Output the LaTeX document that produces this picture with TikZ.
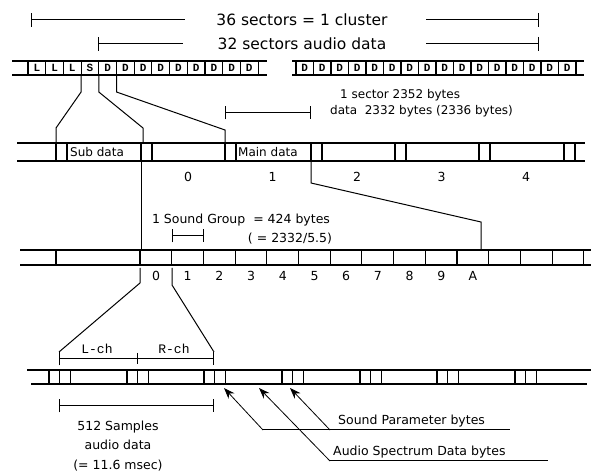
\documentclass[tikz,border=0pt]{standalone}
\usepackage{fontspec}
\setmainfont{DejaVu Sans}
\newfontfamily\cellfont{Liberation Mono}
\usetikzlibrary{arrows.meta}

\tikzset{
  rowline/.style={line width=1.1pt},
  link/.style={line width=1pt},
  span/.style={line width=1pt, {Bar[width=13pt]}-{Bar[width=13pt]}},
  lspan/.style={line width=1pt, {Bar[width=14pt]}-},
  rspan/.style={line width=1pt, -{Bar[width=14pt]}},
  pointer/.style={line width=0.8pt, -{Stealth[length=11pt,width=8pt]}},
  lbl/.style={font=\fontsize{12.5}{14}\selectfont, inner sep=0pt},
  smalllbl/.style={font=\fontsize{12}{13}\selectfont, inner sep=0pt},
  biglbl/.style={font=\fontsize{15.5}{17}\selectfont, inner sep=0pt},
  celltxt/.style={font=\cellfont\bfseries\fontsize{11}{11}\selectfont, inner sep=0pt},
  chtxt/.style={font=\cellfont\fontsize{13}{13}\selectfont, inner sep=0pt},
}

\begin{document}
\begin{tikzpicture}[x=1pt, y=-1pt]
  \useasboundingbox (0,0) rectangle (598,473);

  % Cluster spans
  \node[biglbl] (cluster) at (302,20) {36 sectors = 1 cluster};
  \node[biglbl] (audio) at (302,44) {32 sectors audio data};
  \draw[lspan] (31,20) -- (185,20);
  \draw[rspan] (426,20) -- (539,20);
  \draw[lspan] (98,44) -- (183,44);
  \draw[rspan] (426,44) -- (539,44);

  % Sector row
  \draw[rowline] (12,61) -- (267,61) (12,75) -- (267,75);
  \foreach \s [count=\i from 0] in {L,L,L,S,D,D,D,D,D,D,D,D,D} {
    \draw[rowline] ({28+\i*17.7},61) -- ++(0,14);
    \node[celltxt] at ({36.85+\i*17.7},68) {\s};
  }
  \draw[rowline] (258.1,61) -- ++(0,14);
  \draw[rowline] (292,61) -- (584,61) (292,75) -- (584,75);
  \foreach \i in {0,...,15} {
    \draw[rowline] ({296+\i*17.5},61) -- ++(0,14);
    \node[celltxt] at ({304.75+\i*17.5},68) {D};
  }
  \draw[rowline] (576,61) -- ++(0,14);
  \coordinate (s3) at (81.1,75);
  \coordinate (s4) at (98.8,75);
  \coordinate (s5) at (116.5,75);

  % Sector layout row
  \draw[rowline] (17,143) -- (585,143) (17,161) -- (585,161);
  \foreach \x in {56,141,225,311,395,479,564}
    \draw[rowline] (\x,143) -- ++(0,18) ({\x+11},143) -- ++(0,18);
  \node[smalllbl, anchor=west] (subdata) at (70,152) {Sub data};
  \node[smalllbl, anchor=west] (maindata) at (238,152) {Main data};
  \foreach \n in {0,...,4}
    \node[lbl] at ({188+\n*84.5},177) {\n};
  \coordinate (d0) at (56,143);
  \coordinate (d1) at (143,143);
  \coordinate (d2) at (225,143);
  \draw[link] (s3) -- ++(0,17) -- ([yshift=15pt]d0) -- (d0);
  \draw[link] (s4) -- ++(0,17) -- ([yshift=15pt]d1) -- (d1);
  \draw[link] (s5) -- ++(0,17) -- ([yshift=13pt]d2) -- (d2);

  % One sector
  \draw[span] (225,113) -- (311,113);
  \node[smalllbl, anchor=west] (sector) at (340,95) {1 sector 2352 bytes};
  \node[smalllbl, anchor=west] (payload) at (330,111) {data\ \ 2332 bytes\ (2336 bytes)};

  % Sound group row
  \draw[rowline] (20,250) -- (591,250) (20,265) -- (591,265);
  \draw[rowline] (56,250) -- ++(0,15);
  \foreach \i in {0,...,14}
    \draw[rowline] ({140+\i*31.7},250) -- ++(0,15);
  \foreach \n [count=\i from 0] in {0,1,2,3,4,5,6,7,8,9,A}
    \node[lbl] at ({156+\i*31.7},276) {\n};
  \coordinate (m0) at (141,161);
  \coordinate (g0) at (141,250);
  \coordinate (m1) at (311,161);
  \coordinate (gA) at (481,250);
  \draw[link] (m0) -- (g0);
  \draw[link] (m1) -- ++(0,22) -- ([yshift=28pt]gA) -- (gA);
  \node[lbl] (group) at (241,220) {1 Sound Group\ \ = 424 bytes};
  \node[lbl] (ratio) at (290,239) {( = 2332/5.5)};
  \draw[span] (172,236) -- (204,236);

  % Channels
  \coordinate (lch) at (59,352);
  \coordinate (rch) at (214,352);
  \draw[link] (140,268) -- (140,283) -- (lch);
  \draw[link] (172,268) -- (172,285) -- (rch);
  \draw[span] (59,359) -- (214,359);
  \draw[link] (137,353) -- (137,364);
  \node[chtxt] (left) at (97,349) {L-ch};
  \node[chtxt] (right) at (174,349) {R-ch};

  % Sound group layout row
  \draw[rowline] (27,370) -- (591,370) (31,384) -- (587,384);
  \foreach \x in {49,127,204,282,360,437,515}
    \draw[rowline] (\x,370) -- ++(0,14) ({\x+10.5},370) -- ++(0,14) ({\x+21.5},370) -- ++(0,14);

  % Pointers
  \coordinate (p1) at (224,388);
  \coordinate (p2) at (259,388);
  \coordinate (p3) at (290,388);
  \coordinate (q1) at (263,430);
  \coordinate (q2) at (330,461);
  \coordinate (q3) at (330,430);
  \draw[link] (q1) -- (510,430);
  \draw[link] (q2) -- (548,461);
  \draw[pointer] (q1) -- (p1);
  \draw[pointer] (q2) -- (p2);
  \draw[pointer] (q3) -- (p3);
  \node[lbl, anchor=west] (param) at (338,421) {Sound Parameter bytes};
  \node[lbl, anchor=west] (spectrum) at (333,452) {Audio Spectrum Data bytes};

  % Samples
  \draw[span] (59,406) -- (214,406);
  \node[lbl, align=center, font=\fontsize{12.5}{19.5}\selectfont] (samples) at (118,446) {512 Samples\\audio data\\(= 11.6 msec)};
\end{tikzpicture}
\end{document}
